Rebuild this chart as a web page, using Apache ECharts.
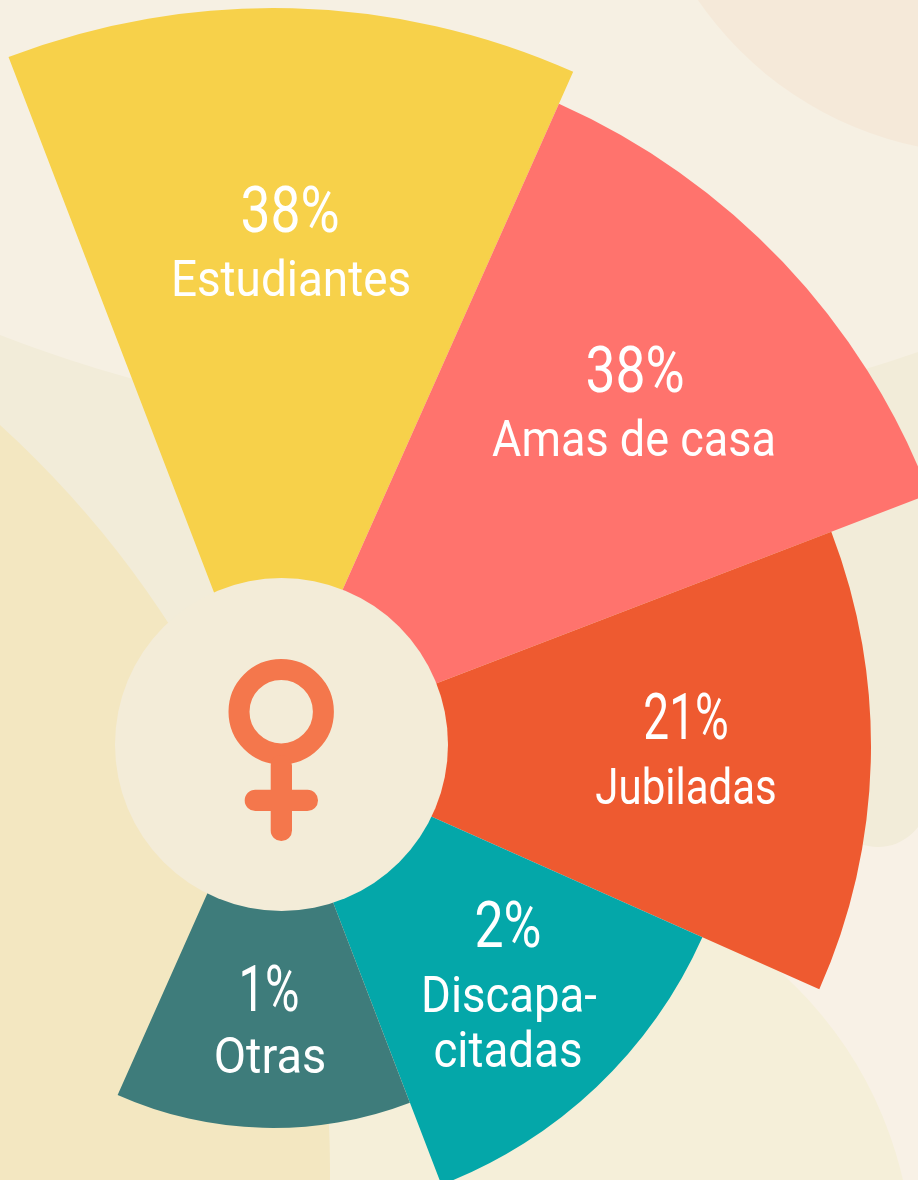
<!DOCTYPE html>
<html>
<head>
<meta charset="utf-8">
<title>Mujeres</title>
<style>
  html, body { margin: 0; padding: 0; background: #f8f1e6; }
  #main { width: 918px; height: 1180px; }
</style>
<script src="https://cdn.jsdelivr.net/npm/echarts@6/dist/echarts.min.js"></script>
</head>
<body>
<div id="main"></div>
<script>
// 8 equal slots, the last 3 stay empty
var categories = ['Estudiantes', 'Amas de casa', 'Jubiladas', 'Discapacitadas', 'Otras', '', '', ''];
var shares = ['38%', '38%', '21%', '2%', '1%'];
// sector length as drawn in the picture (not proportional to the share)
var sectorLength = [638, 603, 498, 370, 282];
var sectorColors = ['#f7d14a', '#ff736d', '#ee5a30', '#04a7a9', '#3e7c7b'];

var labelFont = 'Roboto';
// the sectors fan out from a point a little left of the hub's centre
var fanX = 273, fanY = 746, fanInner = 100;
var hubX = 281.5, hubY = 744.5, hubR = 166.5;

function textEl(str, x, y, size, sx) {
    return {
        type: 'text', z: 100, x: x, y: y, scaleX: sx, scaleY: 1,
        style: {
            text: str, fill: '#fff', fontFamily: labelFont, fontWeight: 400, fontSize: size,
            align: 'center', verticalAlign: 'middle'
        }
    };
}

var background = [
    { type: 'rect', z: 0, shape: { x: 0, y: 300, width: 340, height: 640 }, style: { fill: '#f2ecd9' } },
    { type: 'rect', z: 0, shape: { x: 800, y: 300, width: 118, height: 497 }, style: { fill: '#f2ecd9' } },
    { type: 'circle', z: 0, shape: { cx: 878, cy: 797, r: 50 }, style: { fill: '#f2ecd9' } },
    { type: 'circle', z: 1, shape: { cx: 482, cy: -901.6, r: 1327.2 }, style: { fill: '#f6f0e3' } },
    { type: 'circle', z: 1, shape: { cx: 990, cy: -200, r: 354 }, style: { fill: '#f5e9d9' } },
    { type: 'circle', z: 1, shape: { cx: 515, cy: 1268.7, r: 398 }, style: { fill: '#f5efd9' } },
    { type: 'circle', z: 1, shape: { cx: -676, cy: 1170, r: 1006 }, style: { fill: '#f3e7c1' } }
];

var hub = [
    { type: 'circle', z: 3, shape: { cx: hubX, cy: hubY, r: hubR }, style: { fill: '#f3ecd8' } },
    { type: 'circle', z: 4, shape: { cx: 281.2, cy: 711.7, r: 42.2 }, style: { fill: 'none', stroke: '#f4774c', lineWidth: 21 } },
    { type: 'rect', z: 4, shape: { x: 270.7, y: 755, width: 21.3, height: 86, r: 10.6 }, style: { fill: '#f4774c' } },
    { type: 'rect', z: 4, shape: { x: 244.7, y: 789.7, width: 73.3, height: 21.3, r: 10.6 }, style: { fill: '#f4774c' } }
];

var labels = [
    textEl(shares[0], 290, 216, 64, 0.835),
    textEl(categories[0], 291, 283, 50, 0.917),
    textEl(shares[1], 635, 376, 64, 0.835),
    textEl(categories[1], 634, 443, 50, 0.9),
    textEl(shares[2], 686, 723, 64, 0.72),
    textEl(categories[2], 686, 791, 50, 0.84),
    textEl(shares[3], 508, 931, 64, 0.81),
    textEl('Discapa-', 509, 999, 50, 0.91),
    textEl('citadas', 508, 1054, 50, 0.915),
    textEl(shares[4], 269, 995, 64, 0.735),
    textEl(categories[4], 270, 1060, 50, 0.94)
];

var chart = echarts.init(document.getElementById('main'));
chart.setOption({
    animation: false,
    polar: { center: [fanX, fanY], radius: [fanInner, fanInner + 638] },
    angleAxis: { type: 'category', data: categories, startAngle: 111, clockwise: true, show: false },
    radiusAxis: { type: 'value', min: 0, max: 638, show: false },
    series: [{
        type: 'bar',
        coordinateSystem: 'polar',
        barWidth: '100%',
        z: 2,
        data: sectorLength.map(function (v, i) {
            return { value: v, itemStyle: { color: sectorColors[i] } };
        })
    }],
    graphic: { elements: background.concat(hub, labels) }
});
</script>
</body>
</html>
